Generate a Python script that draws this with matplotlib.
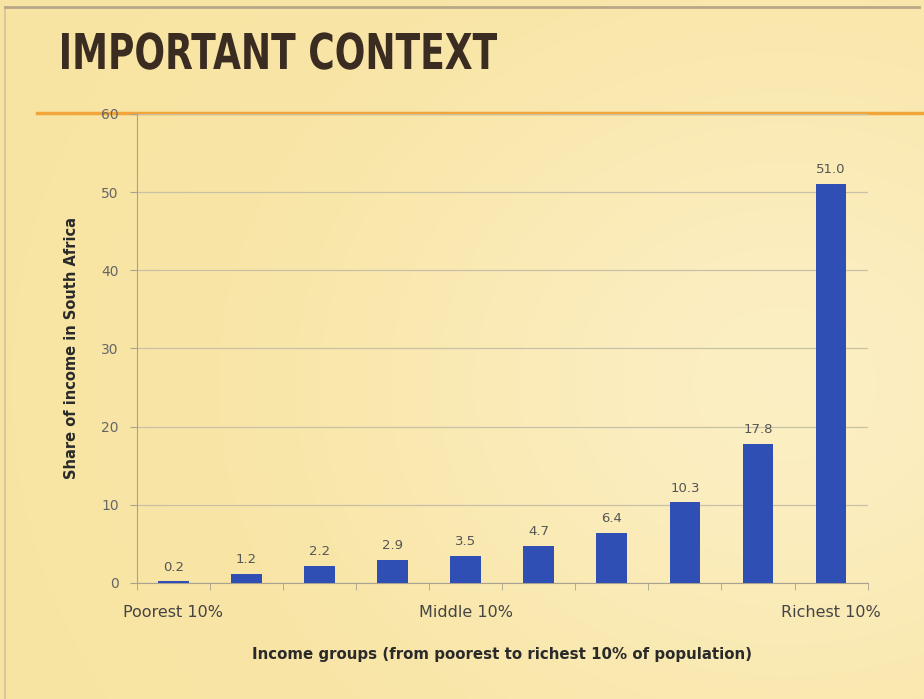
import numpy as np
import matplotlib.pyplot as plt
from matplotlib.textpath import TextPath
from matplotlib.patches import PathPatch
from matplotlib.font_manager import FontProperties
from matplotlib.transforms import Affine2D

groups = ['Poorest 10%', '', '', '', 'Middle 10%', '', '', '', '', 'Richest 10%']
shares = [0.2, 1.2, 2.2, 2.9, 3.5, 4.7, 6.4, 10.3, 17.8, 51.0]
yticks = [0, 10, 20, 30, 40, 50, 60]

fig = plt.figure(figsize=(9.24, 6.99), dpi=100)

# background: warm yellow with lighter glow towards the right
bg = fig.add_axes([0, 0, 1, 1], zorder=-10)
yy, xx = np.mgrid[0:1:300j, 0:1:400j]
glow = np.exp(-(((xx - 0.85) / 0.45) ** 2 + ((yy - 0.45) / 0.5) ** 2))
base = np.array([248, 228, 162]) / 255
light = np.array([253, 243, 208]) / 255
img = base[None, None, :] * (1 - glow[..., None] * 0.7) + light[None, None, :] * glow[..., None] * 0.7
bg.imshow(img, extent=[0, 1, 0, 1], aspect='auto', origin='lower')
bg.set_xlim(0, 1); bg.set_ylim(0, 1)
bg.axis('off')
# slide frame + orange rule
bg.plot([0.005, 0.005], [0, 0.99], color='#d8c89a', lw=1.5)
bg.plot([0.005, 0.995], [0.99, 0.99], color='#b8a888', lw=2)
bg.plot([0.04, 1.0], [1 - 113 / 699, 1 - 113 / 699], color='#f0a63a', lw=2.5)

# condensed bold title: squeeze a text path into the reference box
title = 'IMPORTANT CONTEXT'
fp = FontProperties(family='DejaVu Sans', weight='bold')
tp = TextPath((0, 0), title, size=1, prop=fp)
ext = tp.get_extents()
sx = 435 / ext.width
sy = 36 / TextPath((0, 0), 'I', size=1, prop=fp).get_extents().height
tr = Affine2D().translate(-ext.x0, 0).scale(sx, sy).translate(62, 699 - 69)
fig.patches.append(PathPatch(tr.transform_path(tp), facecolor='#3b2c22', edgecolor='none',
                             transform=None, figure=fig))

ax = fig.add_axes([0.148, 0.166, 0.791, 0.671])
ax.patch.set_alpha(0)
x = np.arange(len(shares))
bars = ax.bar(x, shares, width=0.42, color='#2f4fb5', zorder=3)
for xi, v in zip(x, shares):
    ax.text(xi, v + 1.0, f'{v:.1f}', ha='center', va='bottom', fontsize=9.5, color='#555555')

ax.set_xlim(-0.5, len(shares) - 0.5)
ax.set_ylim(0, 60)
ax.set_yticks(yticks)
ax.yaxis.grid(True, color='#c9c0a8', lw=0.9)
ax.set_axisbelow(True)
ax.tick_params(axis='y', length=5, color='#a9a290', labelcolor='#666666', labelsize=10, pad=8)
ax.set_xticks(x)
ax.set_xticklabels(groups, fontsize=11.5, color='#444444')
ax.set_xticks(np.arange(-0.5, len(shares), 1), minor=True)
ax.tick_params(axis='x', which='major', length=0, pad=16)
ax.tick_params(axis='x', which='minor', length=5, color='#a9a290')
for s in ['top', 'right']:
    ax.spines[s].set_visible(False)
ax.spines['left'].set_color('#a9a290')
ax.spines['bottom'].set_color('#a9a290')

ax.set_ylabel('Share of income in South Africa', fontsize=10.5, fontweight='bold', color='#2a2a2a', labelpad=16)
ax.set_xlabel('Income groups (from poorest to richest 10% of population)', fontsize=10.8,
              fontweight='bold', color='#2a2a2a', labelpad=19)

fig.savefig('out.png', dpi=100)
